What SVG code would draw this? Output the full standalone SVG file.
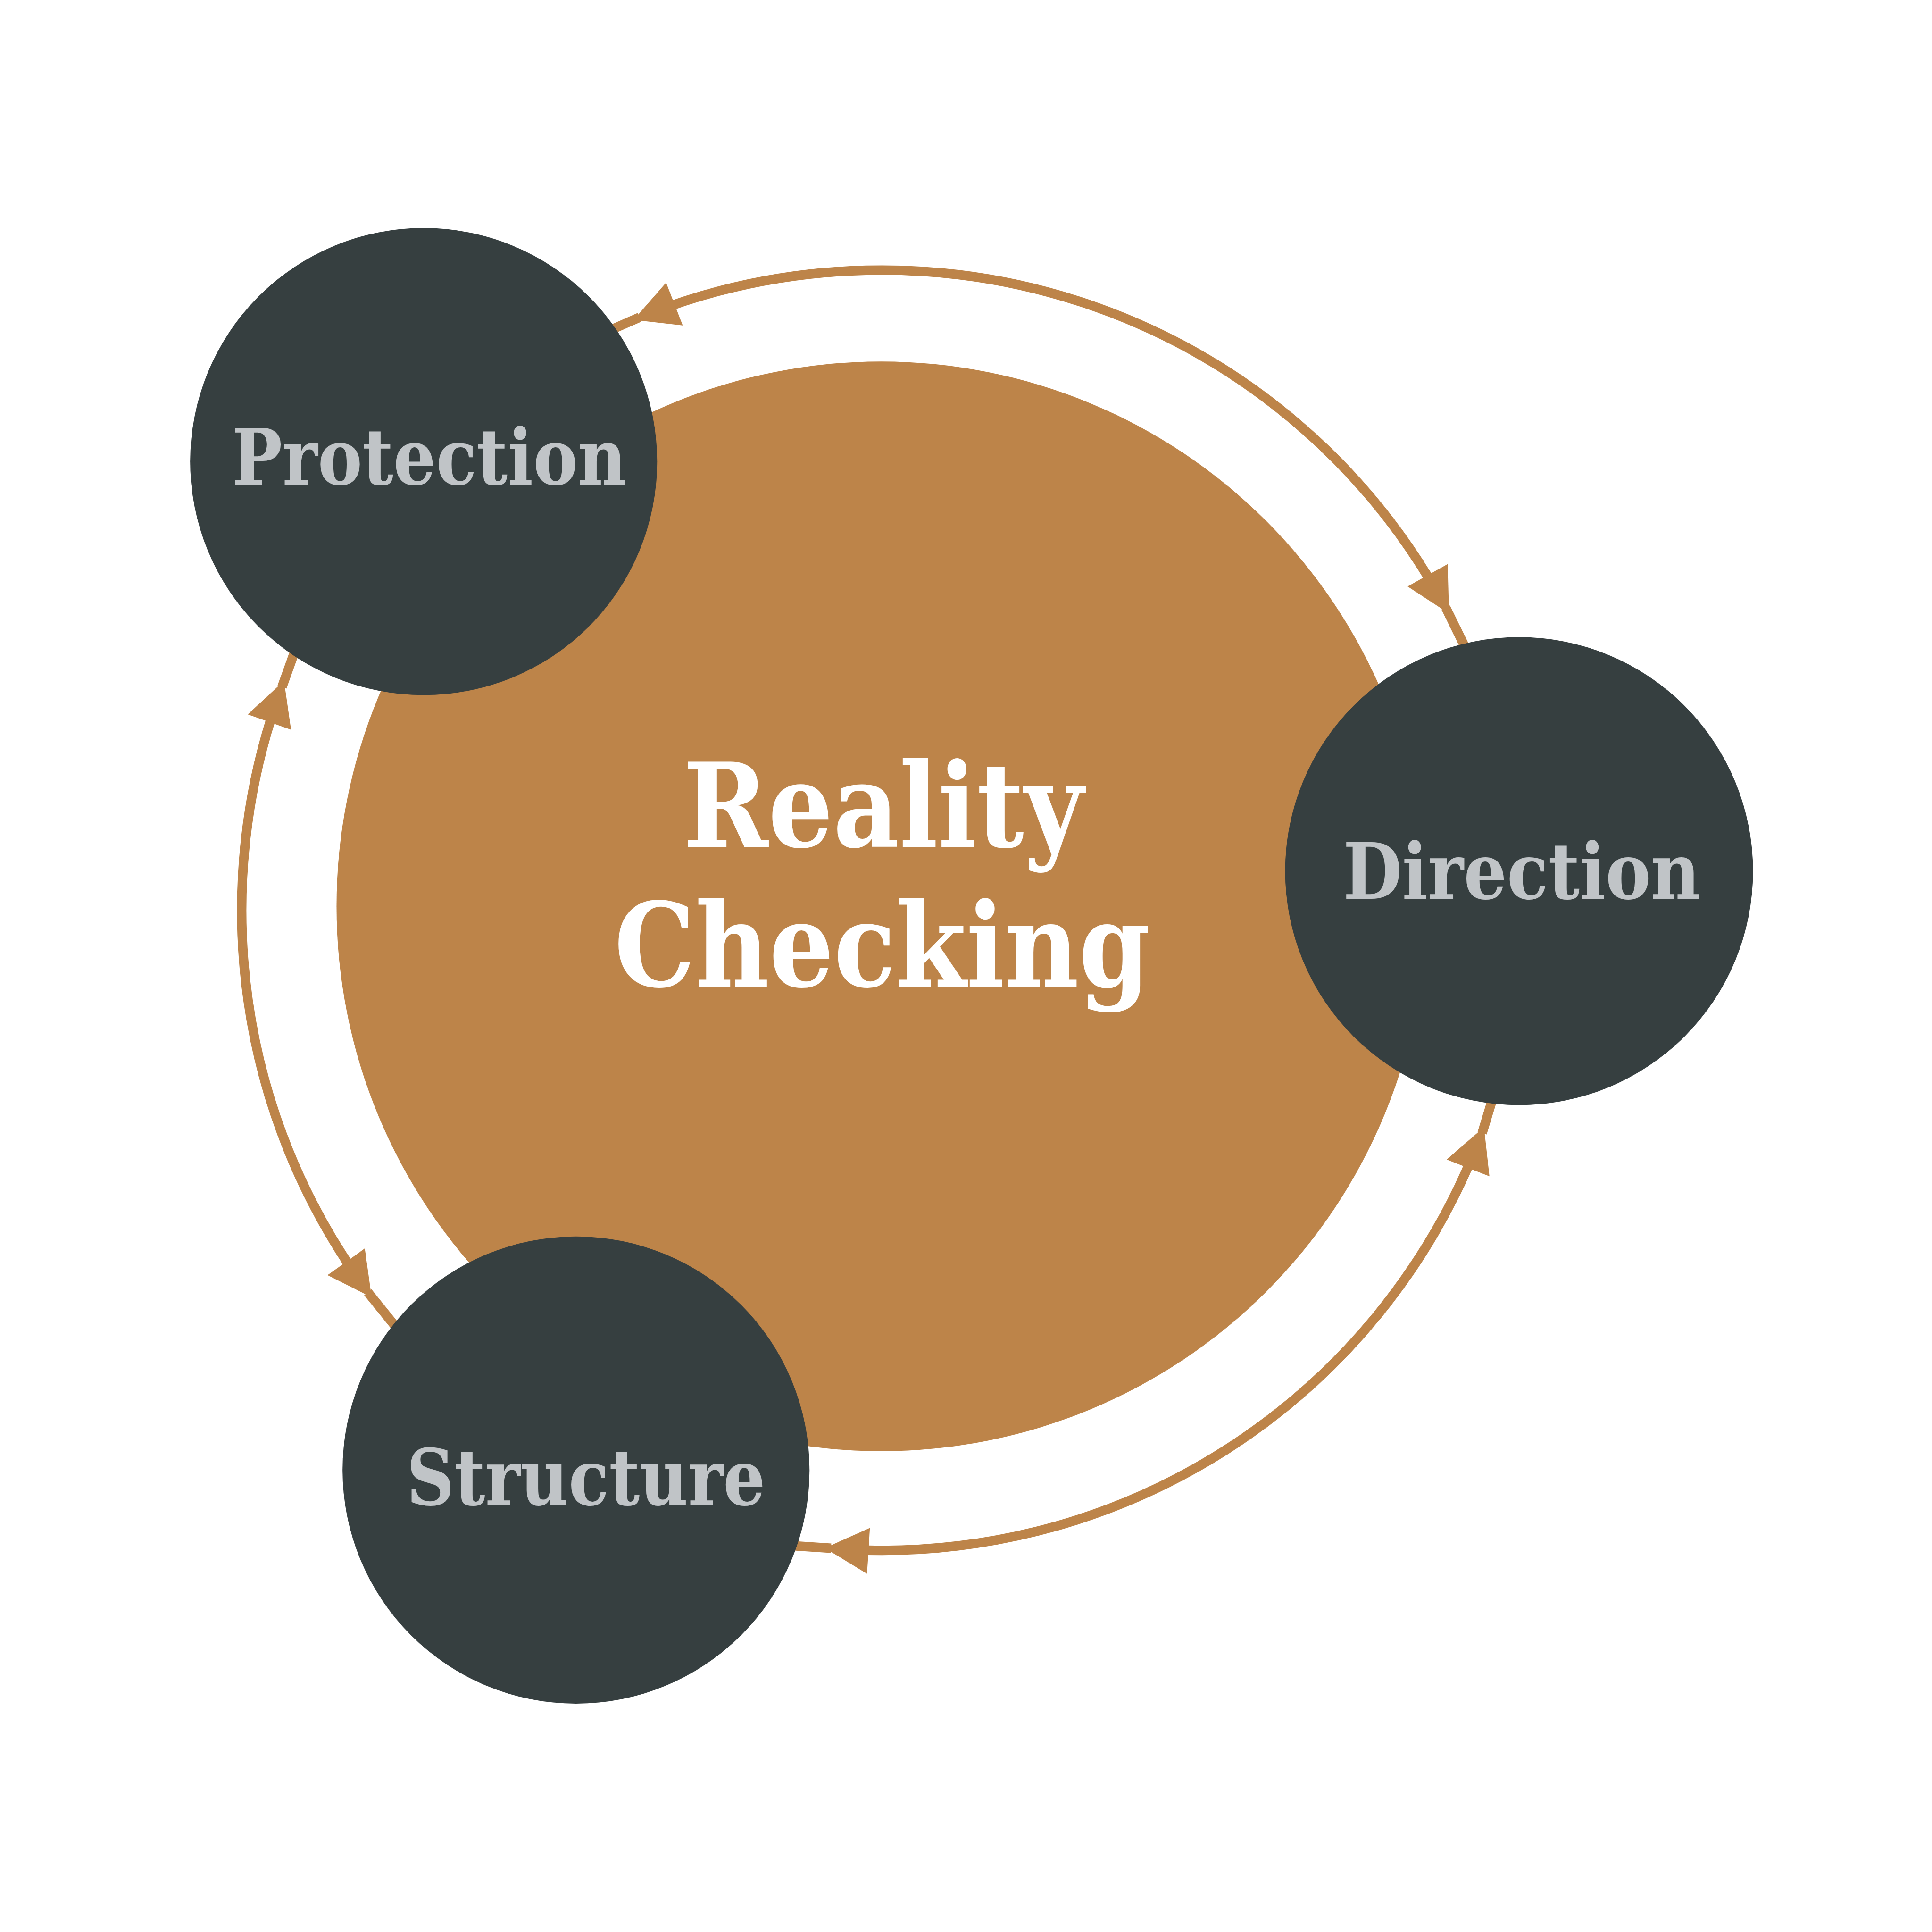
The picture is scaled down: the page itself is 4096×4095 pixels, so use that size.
<svg xmlns="http://www.w3.org/2000/svg" width="4096" height="4095" viewBox="0 0 4096 4095">
<defs>
<style>
.node{fill:#363F40}
.core{fill:#BD8449}
.lbl{font-family:"DejaVu Serif Condensed","DejaVu Serif","Liberation Serif",serif;font-stretch:condensed;font-weight:bold;fill:#C0C4C7;font-size:182px;text-anchor:middle}
.title{font-family:"DejaVu Serif Condensed","DejaVu Serif","Liberation Serif",serif;font-stretch:condensed;font-weight:bold;fill:#FFFFFF;font-size:272px;text-anchor:middle}
.arc{fill:none;stroke:#BD8449;stroke-width:22}
.lead{fill:none;stroke:#BD8449;stroke-width:22}
</style>
<marker id="ah" markerUnits="userSpaceOnUse" viewBox="-70 -60 120 120" refX="0" refY="0" markerWidth="120" markerHeight="120" orient="auto-start-reverse" overflow="visible">
<path d="M40,0 L-62,-53.5 L-62,53.5 Z" fill="#BD8449"/>
</marker>
</defs>
<rect width="4096" height="4095" fill="#FFFFFF"/>
<g transform="scale(0.91002)">
<g id="node-reality-checking">
<circle class="core" cx="2053" cy="2111" r="1269"/>
<text class="title" x="2058" y="1972" textLength="932" lengthAdjust="spacingAndGlyphs">Reality</text>
<text class="title" x="2055" y="2298" textLength="1248" lengthAdjust="spacingAndGlyphs">Checking</text>
</g>
<g id="connectors">
<path class="arc" d="M1513.4,730.5 A1491,1491 0 0 1 3356.2,1394.0" marker-start="url(#ah)" marker-end="url(#ah)"/>
<path class="arc" d="M3442.7,2662.6 A1491,1491 0 0 1 1961.4,3608.2" marker-start="url(#ah)" marker-end="url(#ah)"/>
<path class="arc" d="M842.6,2989.3 A1491,1491 0 0 1 648.3,1623.3" marker-start="url(#ah)" marker-end="url(#ah)"/>
<path class="lead" d="M1490,739 L1385,785"/>
<path class="lead" d="M3368,1415 L3441,1564"/>
<path class="lead" d="M3453,2639 L3492,2511"/>
<path class="lead" d="M1936,3606 L1794,3597"/>
<path class="lead" d="M857,3010 L971,3151"/>
<path class="lead" d="M657,1600 L704,1469"/>
</g>
<g id="node-protection">
<circle class="node" cx="987" cy="1075" r="544"/>
<text class="lbl" x="1000" y="1129" textLength="919" lengthAdjust="spacingAndGlyphs">Protection</text>
</g>
<g id="node-direction">
<circle class="node" cx="3539" cy="2029" r="545"/>
<text class="lbl" x="3545" y="2093" textLength="832" lengthAdjust="spacingAndGlyphs">Direction</text>
</g>
<g id="node-structure">
<circle class="node" cx="1342" cy="3424" r="544"/>
<text class="lbl" x="1365" y="3505" textLength="836" lengthAdjust="spacingAndGlyphs">Structure</text>
</g>
</g>
</svg>
